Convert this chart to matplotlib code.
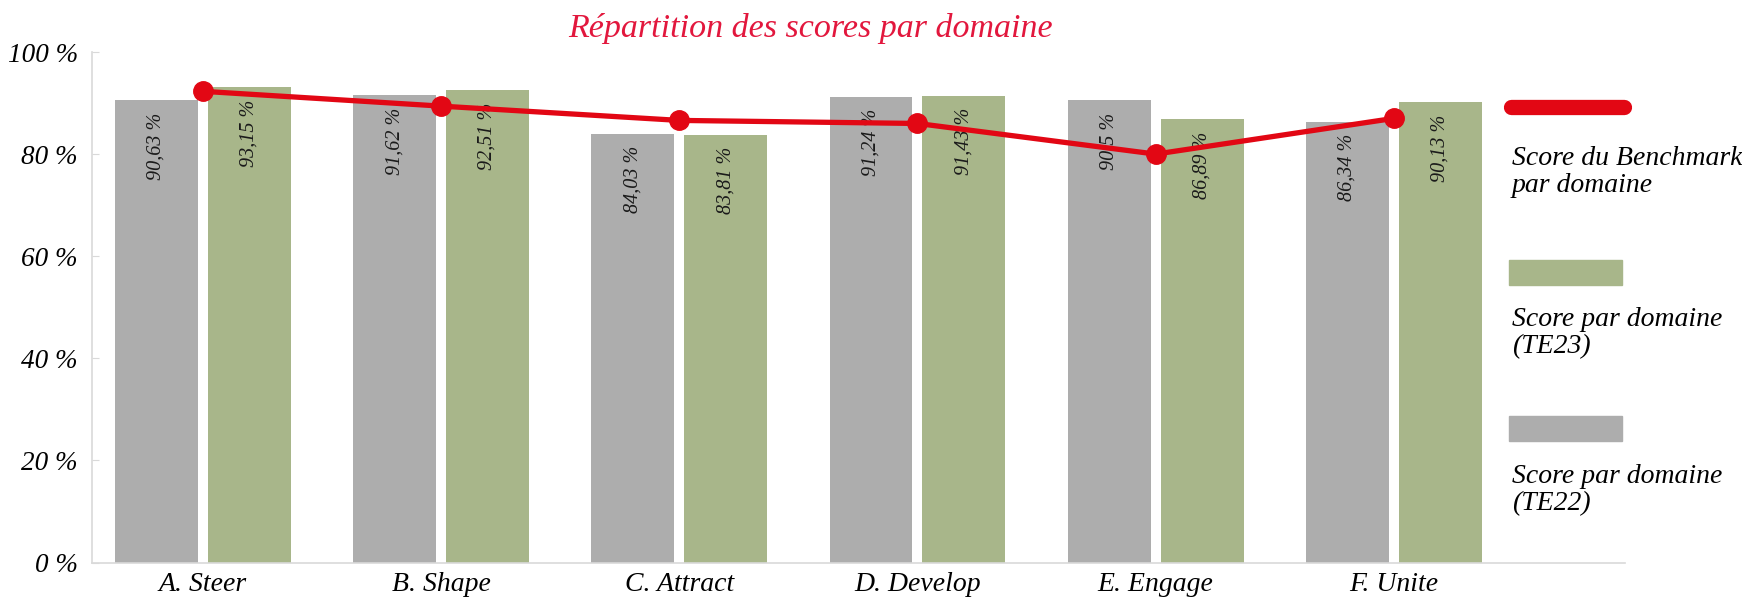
import numpy as np
import matplotlib
import matplotlib.pyplot as plt
from matplotlib.lines import Line2D
from matplotlib.patches import Rectangle

matplotlib.use('Agg')

# Données
domaines = ['A. Steer', 'B. Shape', 'C. Attract', 'D. Develop', 'E. Engage', 'F. Unite']
score_te22 = [90.63, 91.62, 84.03, 91.24, 90.50, 86.34]
score_te23 = [93.15, 92.51, 83.81, 91.43, 86.89, 90.13]
benchmark = [92.3, 89.4, 86.6, 86.0, 80.0, 87.0]
yticks = [0, 20, 40, 60, 80, 100]

GRIS = '#adadad'
VERT = '#a8b68a'
ROUGE = '#e20714'
TITRE = '#e2173d'
SERIF = ['Liberation Serif', 'DejaVu Serif']

plt.rcParams['font.family'] = SERIF
plt.rcParams['font.style'] = 'italic'


def fmt(v):
    s = f'{v:.2f}'.rstrip('0').rstrip('.')
    return s.replace('.', ',') + ' %'


fig = plt.figure(figsize=(17.42, 5.99), dpi=100)
ax = fig.add_axes([92 / 1742, 36.5 / 599, (1625 - 92) / 1742, (562.5 - 52) / 599])

x = np.arange(len(domaines))
w = 0.348
off = 0.195

b22 = ax.bar(x - off, score_te22, width=w, color=GRIS, zorder=2)
b23 = ax.bar(x + off, score_te23, width=w, color=VERT, zorder=2)

for bars, vals in ((b22, score_te22), (b23, score_te23)):
    for rect, v in zip(bars, vals):
        ax.annotate(fmt(v), (rect.get_x() + rect.get_width() / 2, v),
                    xytext=(0, -9), textcoords='offset points',
                    rotation=90, ha='center', va='top',
                    fontsize=14.5, color='#1a1a1a', zorder=4)

ax.plot(x, benchmark, color=ROUGE, lw=3.8, marker='o', markersize=14,
        zorder=5, solid_capstyle='round')

ax.set_xlim(-0.465, 5.97)
ax.set_ylim(0, 100)
ax.set_xticks(x)
ax.set_xticklabels(domaines, fontsize=20)
ax.set_yticks(yticks)
ax.set_yticklabels([f'{t} %' for t in yticks], fontsize=19.5)
ax.tick_params(axis='x', length=0, pad=7)
ax.tick_params(axis='y', length=5, direction='in', color='#d9d9d9', pad=10)

for side in ('top', 'right'):
    ax.spines[side].set_visible(False)
for side in ('left', 'bottom'):
    ax.spines[side].set_color('#d9d9d9')
    ax.spines[side].set_linewidth(1.2)

fig.text(810 / 1742, 1 - 28 / 599, 'Répartition des scores par domaine',
         color=TITRE, fontsize=24.5, ha='center', va='center')

# Légende à droite
def fx(px):
    return px / 1742


def fy(py):
    return 1 - py / 599


fig.add_artist(Line2D([fx(1511), fx(1624)], [fy(107.5), fy(107.5)],
                      color=ROUGE, lw=11, solid_capstyle='round',
                      transform=fig.transFigure))
fig.text(fx(1512), fy(172), 'Score du Benchmark\npar domaine',
         fontsize=20, ha='left', va='center', linespacing=1.1)

fig.add_artist(Rectangle((fx(1509), fy(285)), fx(113), 25 / 599,
                         color=VERT, transform=fig.transFigure))
fig.text(fx(1512), fy(333), 'Score par domaine\n(TE23)',
         fontsize=20, ha='left', va='center', linespacing=1.1)

fig.add_artist(Rectangle((fx(1509), fy(441)), fx(113), 25 / 599,
                         color=GRIS, transform=fig.transFigure))
fig.text(fx(1512), fy(490), 'Score par domaine\n(TE22)',
         fontsize=20, ha='left', va='center', linespacing=1.1)

fig.savefig('out.png', dpi=100)
plt.close(fig)
